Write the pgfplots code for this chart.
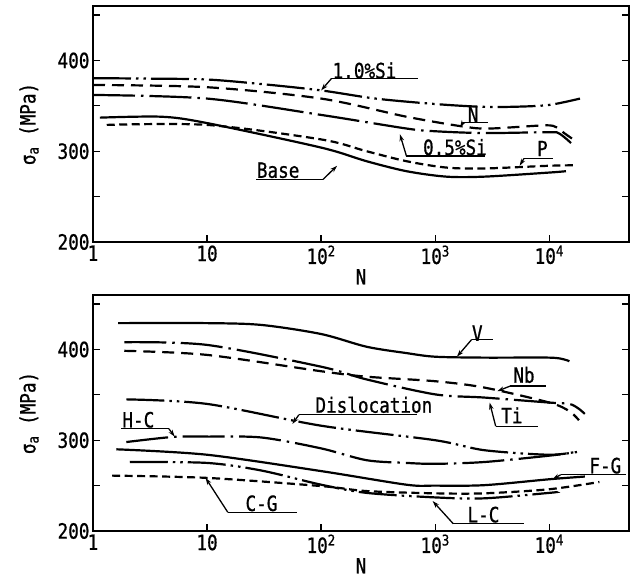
\documentclass[border=0pt]{standalone}
\usepackage{pgfplots}
\pgfplotsset{compat=1.18}
\usepackage{fontspec}
\setmainfont{DejaVu Sans Mono}[FakeStretch=0.84, FakeBold=0.8]
\usetikzlibrary{arrows.meta}
\tikzset{
  dd/.style={line width=2.2pt, dash pattern=on 38pt off 5pt on 2.5pt off 5pt on 2.5pt off 5pt},
  dt/.style={line width=2.2pt, dash pattern=on 42pt off 6pt on 2.5pt off 6pt},
  ld/.style={line width=2.2pt, dash pattern=on 12pt off 7pt},
  sd/.style={line width=2.2pt, dash pattern=on 8pt off 4.5pt},
  so/.style={line width=2.2pt},
  ann/.style={line width=1.3pt},
  arr/.style={line width=1.3pt, -{Stealth[length=7pt,width=4.5pt]}},
}
\pgfplotsset{
  every axis/.append style={
    width=536pt, height=236pt, scale only axis,
    xmin=1, xmax=50000, ymin=200, ymax=460,
    xtick={1,10,100,1000,10000},
    xticklabels={1,10,10\textsuperscript{2},10\textsuperscript{3},10\textsuperscript{4}},
    ytick={200,250,300,350,400,450},
    yticklabels={200,,300,,400,},
    xminorticks=false,
    xtick pos=bottom, ytick pos=both,
    tick align=inside, major tick length=7pt,
    tick style={line width=1.3pt, black},
    axis line style={line width=2pt},
    ticklabel style={font=\fontsize{21}{24}\selectfont},
    label style={font=\fontsize{21}{24}\selectfont},
    xlabel={N},
    ylabel={σ\textsubscript{a} (MPa)},
    xlabel style={yshift=2pt},
    ylabel style={yshift=12pt},
    clip=false,
  }
}
\begin{document}
\begin{tikzpicture}[every node/.style={font=\fontsize{21}{24}\selectfont}]
\path[use as bounding box] (-93pt,-52pt) rectangle (541pt,531pt);
% ---------- top panel ----------
\begin{semilogxaxis}[at={(0,289pt)}]
\addplot[dd, smooth] coordinates {(1.0,380.5)(3,380)(10,379)(30,374)(100,367)(300,358)(1000,352)(2500,349)(5000,349)(10000,351)(18600,358)};
\addplot[ld, smooth] coordinates {(1,373)(10,370.5)(100,358)(560,338)(1800,327)(3000,325)(9100,328.5)(11500,326.5)(13500,320)(15800,314)};
\addplot[dt, smooth] coordinates {(1,362)(10,358)(100,340)(560,325)(1000,322)(2700,320)(10000,321)(12000,320)(14000,314)(15500,309)};
\addplot[so, smooth] coordinates {(1.15,337)(4,338)(10,331)(100,304)(250,289)(560,278)(1250,272)(2700,272)(10000,276.5)(14000,278)};
\addplot[sd, smooth] coordinates {(1.32,329)(10,329)(100,313)(250,300)(560,289)(1250,282)(2700,281)(10000,284)(17000,284.5)};
% labels
\node at (axis cs:240,389) {1.0\%Si};
\draw[ann] (axis cs:123,380) -- (axis cs:700,380);
\draw[arr] (axis cs:123,380) -- (axis cs:100,367);
\node at (axis cs:2150,340.5) {N};
\draw[ann] (axis cs:1760,332) -- (axis cs:2880,332);
\draw[arr] (axis cs:1760,332) -- (axis cs:1650,326.5);
\node at (axis cs:1490,304.5) {0.5\%Si};
\draw[ann] (axis cs:560,294.6) -- (axis cs:2760,294.6);
\draw[arr] (axis cs:560,294.6) -- (axis cs:490,318.8);
\node at (axis cs:8700,303) {P};
\draw[ann] (axis cs:6000,292) -- (axis cs:10700,292);
\draw[arr] (axis cs:6000,292) -- (axis cs:5500,284);
\node at (axis cs:42,279) {Base};
\draw[ann] (axis cs:27,269) -- (axis cs:104,269);
\draw[arr] (axis cs:104,269) -- (axis cs:138,284);
\end{semilogxaxis}
% ---------- bottom panel ----------
\begin{semilogxaxis}[at={(0,0)}]
\addplot[so, smooth] coordinates {(1.66,429)(10,429)(30,427)(100,417)(250,403)(560,396)(1000,392)(2700,391)(10000,391)(13500,389)(15000,387)};
\addplot[dt, smooth] coordinates {(1.88,408)(10,405)(100,381)(250,367)(1000,350.5)(2700,347)(10000,341.5)(15000,340)(18000,335)(20500,329)};
\addplot[ld, smooth] coordinates {(1.88,398.5)(10,394)(100,376)(250,370)(1000,365)(2700,358)(10000,341.5)(15000,332)(18200,322)};
\addplot[dd, smooth] coordinates {(1.96,345)(10,340)(100,316)(1000,300)(2700,289)(10000,284)(17500,287.5)};
\addplot[dt, smooth] coordinates {(1.96,298)(5,303.6)(10,304)(30,303)(100,291)(250,278)(560,275)(1000,274)(2700,276)(10000,283)(17500,287)};
\addplot[so, smooth] coordinates {(1.6,290)(10,284)(100,266)(560,251)(1000,250)(2700,250.5)(10000,257)(20500,260)};
\addplot[dd, smooth] coordinates {(2.1,276)(10,275)(30,266.6)(100,251)(250,242)(1000,237)(2700,236)(10000,242)(11500,243)};
\addplot[sd, smooth] coordinates {(1.47,261)(10,258.5)(100,249.5)(250,244)(1000,241.5)(2700,241.5)(10000,246)(27500,254)};
% labels
\node at (axis cs:2340,418) {V};
\draw[ann] (axis cs:2090,411) -- (axis cs:3230,411);
\draw[arr] (axis cs:2090,411) -- (axis cs:1550,392);
\node at (axis cs:6000,372) {Nb};
\draw[ann] (axis cs:4520,359.6) -- (axis cs:9440,359.6);
\draw[arr] (axis cs:4520,359.6) -- (axis cs:3500,354);
\node at (axis cs:4700,327.5) {Ti};
\draw[ann] (axis cs:3390,315.5) -- (axis cs:8000,315.5);
\draw[arr] (axis cs:3390,315.5) -- (axis cs:3000,341.5);
\node at (axis cs:290,339) {Dislocation};
\draw[ann] (axis cs:63.8,328) -- (axis cs:690,328);
\draw[arr] (axis cs:63.8,328) -- (axis cs:56,318);
\node at (axis cs:2.5,322.5) {H-C};
\draw[ann] (axis cs:1.77,312.6) -- (axis cs:4.63,312.6);
\draw[arr] (axis cs:4.63,312.6) -- (axis cs:5.2,304);
\node at (axis cs:31000,272) {F-G};
\draw[ann] (axis cs:12600,262) -- (axis cs:46700,262);
\draw[arr] (axis cs:12600,262) -- (axis cs:10700,257);
\node at (axis cs:30,230.5) {C-G};
\draw[ann] (axis cs:15.2,220.6) -- (axis cs:61,220.6);
\draw[arr] (axis cs:15.2,220.6) -- (axis cs:9.7,258.5);
\node at (axis cs:2650,218) {L-C};
\draw[ann] (axis cs:1440,208) -- (axis cs:6000,208);
\draw[arr] (axis cs:1440,208) -- (axis cs:950,233);
\end{semilogxaxis}
\end{tikzpicture}
\end{document}
